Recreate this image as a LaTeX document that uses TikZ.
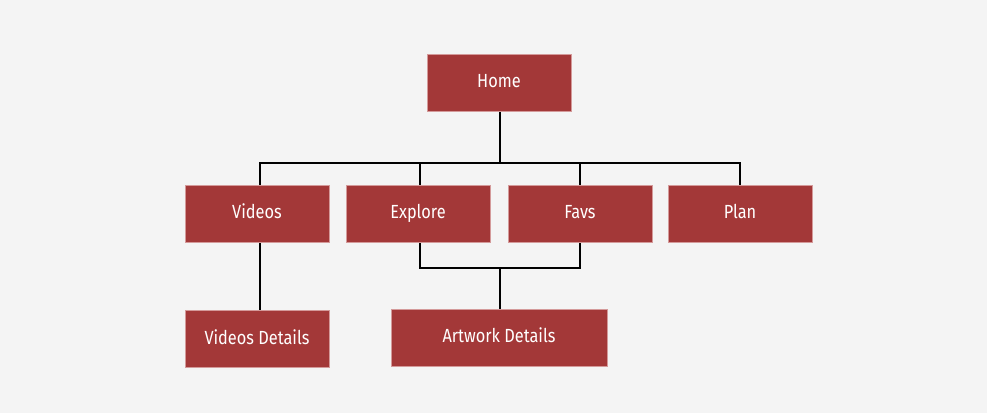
\documentclass[tikz,border=0pt]{standalone}
\usepackage{fontspec}
\setmainfont{Fira Sans}[FakeStretch=0.86]
\usepackage{tikz}
\usetikzlibrary{positioning,backgrounds}
\definecolor{boxred}{HTML}{A33838}
\definecolor{boxedge}{HTML}{D49A9A}
\definecolor{bggray}{HTML}{F4F4F4}
\tikzset{page/.style={draw=boxedge, fill=boxred, text=white, line width=0.5pt, minimum width=144pt, minimum height=57pt, inner sep=0pt, text height=1.25em, text depth=0.2em, font=\fontsize{19}{22}\selectfont}}

\begin{document}
\begin{tikzpicture}[x=1pt,y=-1pt]
\useasboundingbox (0,0) rectangle (987,413);
\node[page] (home) at (499,82.5) {Home};
\node[page] (videos) at (257,213.5) {Videos};
\node[page] (explore) at (418,213.5) {Explore};
\node[page] (favs) at (580,213.5) {Favs};
\node[page] (plan) at (740,213.5) {Plan};
\node[page] (vdetails) at (257,339) {Videos Details};
\node[page, minimum width=216pt] (adetails) at (499,337.5) {Artwork Details};
\coordinate (split) at (500,163);
\coordinate (join) at (500,268);
\begin{scope}[on background layer]
\fill[bggray] (0,0) rectangle (987,413);
\path [draw, line width=1.2pt] (home.south -| split) -- (split) node[] {};
\path [draw, line width=1.2pt] ([xshift=3pt]videos.north) |- (split) node[] {};
\path [draw, line width=1.2pt] (plan.north) |- (split) node[] {};
\path [draw, line width=1.2pt] ([xshift=2pt]explore.north) -- ([xshift=2pt]explore.north |- split) node[] {};
\path [draw, line width=1.2pt] (favs.north) -- (favs.north |- split) node[] {};
\path [draw, line width=1.2pt] ([xshift=3pt]videos.south) -- ([xshift=3pt]vdetails.north) node[] {};
\path [draw, line width=1.2pt] ([xshift=2pt]explore.south) |- (join) node[] {};
\path [draw, line width=1.2pt] (favs.south) |- (join) node[] {};
\path [draw, line width=1.2pt] (join) -- (adetails.north -| join) node[] {};
\end{scope}
\end{tikzpicture}
\end{document}
